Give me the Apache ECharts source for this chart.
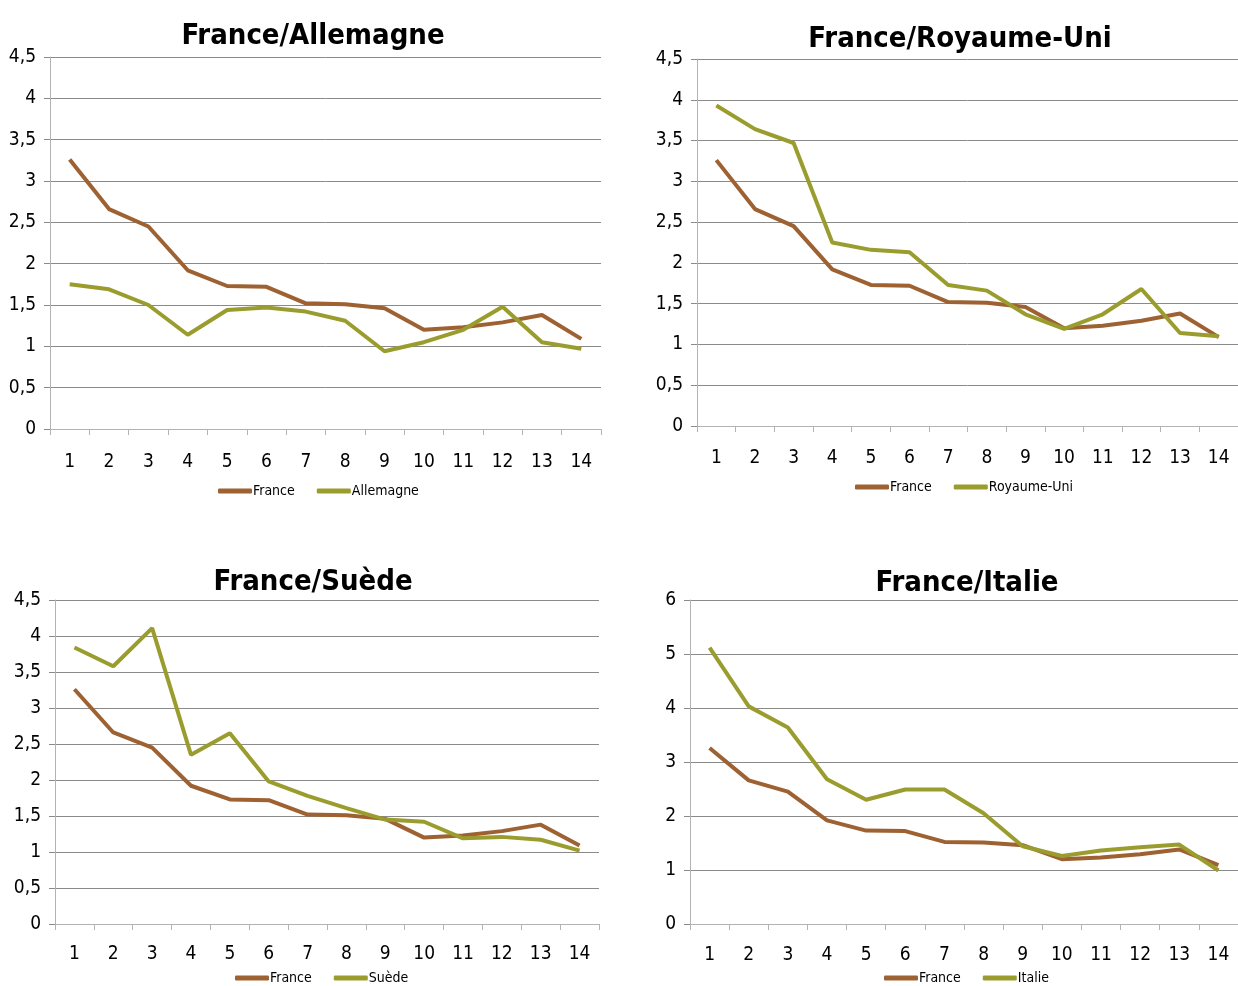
<!DOCTYPE html>
<html>
<head>
<meta charset="utf-8">
<script src="https://cdn.jsdelivr.net/npm/echarts@6/dist/echarts.min.js"></script>
<style>
  html, body { margin: 0; padding: 0; background: #fff; }
  #chart { width: 1238px; height: 986px; }
</style>
</head>
<body>
<div id="chart"></div>
<script>
// données
const categories = ["1", "2", "3", "4", "5", "6", "7", "8", "9", "10", "11", "12", "13", "14"];
const france = [3.26, 2.66, 2.45, 1.92, 1.73, 1.72, 1.52, 1.51, 1.46, 1.20, 1.23, 1.29, 1.38, 1.09];
const allemagne = [1.75, 1.69, 1.50, 1.14, 1.44, 1.47, 1.42, 1.31, 0.94, 1.05, 1.20, 1.48, 1.05, 0.97];
const royaumeUni = [3.93, 3.64, 3.47, 2.25, 2.16, 2.13, 1.73, 1.66, 1.37, 1.19, 1.37, 1.68, 1.14, 1.10];
const suede = [3.84, 3.58, 4.11, 2.35, 2.65, 1.98, 1.78, 1.61, 1.45, 1.42, 1.19, 1.21, 1.17, 1.02];
const italie = [5.12, 4.03, 3.64, 2.68, 2.30, 2.49, 2.49, 2.05, 1.44, 1.26, 1.36, 1.42, 1.47, 0.99];

const panels = [
  { title: "France/Allemagne", name: "Allemagne", values: allemagne, max: 4.5, interval: 0.5,
    grid: { left: 50, right: 637, top: 57, height: 372 }, titleX: 308, titleY: 17, legendX: 213, legendY: 479, labelMargin: 24 },
  { title: "France/Royaume-Uni", name: "Royaume-Uni", values: royaumeUni, max: 4.5, interval: 0.5,
    grid: { left: 697, right: -11, top: 59, height: 367 }, titleX: 955, titleY: 20, legendX: 850, legendY: 475, labelMargin: 23 },
  { title: "France/Suède", name: "Suède", values: suede, max: 4.5, interval: 0.5,
    grid: { left: 55, right: 639, top: 600, height: 324 }, titleX: 308, titleY: 563, legendX: 230, legendY: 966, labelMargin: 21 },
  { title: "France/Italie", name: "Italie", values: italie, max: 6, interval: 1,
    grid: { left: 690, right: -8, top: 600, height: 324 }, titleX: 962, titleY: 564, legendX: 879, legendY: 966, labelMargin: 22 }
];

const FONT = "'Liberation Sans Narrow', 'DejaVu Sans Condensed', sans-serif";
const BROWN = "#9E6132";
const GREEN = "#9A9D2E";

let option = {
  animation: false,
  backgroundColor: "#fff",
  title: [], grid: [], xAxis: [], yAxis: [], legend: [], series: []
};

panels.forEach((p, i) => {
  option.title.push({
    text: p.title,
    left: p.titleX,
    top: p.titleY,
    textAlign: "center",
    textStyle: { fontFamily: FONT, fontSize: 29, fontWeight: "bold", color: "#000" }
  });
  option.grid.push(p.grid);
  option.xAxis.push({
    type: "category",
    gridIndex: i,
    data: categories,
    boundaryGap: true,
    axisLine: { lineStyle: { color: "#b3b3b3", width: 1 } },
    axisTick: { show: true, length: 6, lineStyle: { color: "#b3b3b3" } },
    axisLabel: { color: "#000", fontFamily: FONT, fontSize: 19, margin: p.labelMargin }
  });
  option.yAxis.push({
    type: "value",
    gridIndex: i,
    min: 0,
    max: p.max,
    interval: p.interval,
    axisLine: { show: true, lineStyle: { color: "#b3b3b3", width: 1 } },
    axisTick: { show: true, inside: false, length: 6, lineStyle: { color: "#8a8a8a" } },
    splitLine: { lineStyle: { color: "#8a8a8a", width: 1 } },
    axisLabel: {
      color: "#000", fontFamily: FONT, fontSize: 19, margin: 14,
      formatter: v => String(v).replace(".", ",")
    }
  });
  option.legend.push({
    left: p.legendX,
    top: p.legendY,
    itemWidth: 34,
    itemHeight: 5,
    itemGap: 22,
    icon: "roundRect",
    data: ["France", p.name],
    textStyle: { fontFamily: FONT, fontSize: 14, color: "#000", padding: [0, 0, 0, -4] }
  });
  option.series.push({
    name: "France", type: "line", xAxisIndex: i, yAxisIndex: i,
    data: france, showSymbol: false, symbol: "none",
    lineStyle: { color: BROWN, width: 4 }, itemStyle: { color: BROWN }
  });
  option.series.push({
    name: p.name, type: "line", xAxisIndex: i, yAxisIndex: i,
    data: p.values, showSymbol: false, symbol: "none",
    lineStyle: { color: GREEN, width: 4 }, itemStyle: { color: GREEN }
  });
});

let myChart = echarts.init(document.getElementById("chart"));
myChart.setOption(option);
</script>
</body>
</html>
